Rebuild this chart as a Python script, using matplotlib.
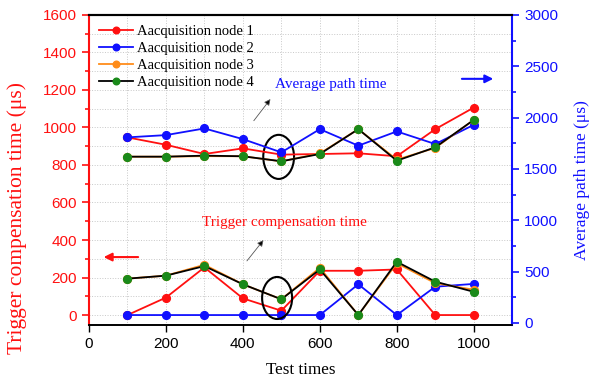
import numpy as np
import matplotlib
matplotlib.use('Agg')
import matplotlib.pyplot as plt
from matplotlib.patches import Ellipse
from matplotlib.ticker import MultipleLocator

# Data
test_times = [100, 200, 300, 400, 500, 600, 700, 800, 900, 1000]
labels = ['Aacquisition node 1', 'Aacquisition node 2',
          'Aacquisition node 3', 'Aacquisition node 4']

# Trigger compensation time (left axis)
trig_node1 = [0, 93, 254, 89, 23, 236, 236, 243, 0, 0]
trig_node2 = [0, 0, 0, 0, 0, 0, 164, 0, 151, 166]
trig_node3 = [194, 210, 268, 164, 84, 252, 0, 276, 170, 135]
trig_node4 = [194, 210, 261, 164, 84, 243, 0, 284, 178, 124]

# Average path time (right axis)
path_node1 = [1807, 1735, 1645, 1700, 1639, 1645, 1652, 1623, 1887, 2097]
path_node2 = [1807, 1829, 1894, 1790, 1661, 1887, 1726, 1865, 1742, 1929]
path_node3 = [1619, 1619, 1624, 1623, 1574, 1650, 1887, 1590, 1705, 1977]
path_node4 = [1619, 1619, 1629, 1623, 1574, 1645, 1887, 1580, 1710, 1977]

serif = 'Liberation Serif'
sans = 'Liberation Sans'

red = '#ff1010'
blue = '#1010ff'
orange = '#ff8c1a'
green = '#1a8a1a'

fig = plt.figure(figsize=(5.97, 3.81), dpi=100)
ax = fig.add_axes([0.149, 0.147, 0.709, 0.814])
ax2 = ax.twinx()

styles = [
    (red, red, trig_node1, path_node1),
    (blue, blue, trig_node2, path_node2),
    (orange, orange, trig_node3, path_node3),
    ('black', green, trig_node4, path_node4),
]

for (lc, mc, trig, path), lab in zip(styles, labels):
    ax.plot(test_times, trig, color=lc, lw=1.3, marker='o', ms=5.6,
            mfc=mc, mec=mc, label=lab)
    ax2.plot(test_times, path, color=lc, lw=1.3, marker='o', ms=5.6,
             mfc=mc, mec=mc)

# Axis limits
ax.set_xlim(0, 1100)
ax.set_ylim(-53, 1600)
ax2.set_ylim(-20, 3000)

# Ticks
ax.xaxis.set_major_locator(MultipleLocator(200))
ax.yaxis.set_major_locator(MultipleLocator(200))
ax.yaxis.set_minor_locator(MultipleLocator(100))
ax2.yaxis.set_major_locator(MultipleLocator(500))
ax2.yaxis.set_minor_locator(MultipleLocator(250))
ax.set_xticks(list(np.arange(100, 1001, 200)) + [1100], minor=True)

ax.tick_params(axis='x', which='major', direction='out', length=5, width=1,
               colors='black', labelsize=11, top=False)
ax.tick_params(axis='x', which='minor', length=0)
ax.tick_params(axis='y', which='major', direction='out', length=5, width=1.2,
               colors=red, labelsize=11)
ax.tick_params(axis='y', which='minor', direction='out', length=3, width=1.2,
               colors=red)
ax2.tick_params(axis='y', which='major', direction='out', length=5, width=1.2,
                colors=blue, labelsize=11)
ax2.tick_params(axis='y', which='minor', direction='out', length=3, width=1.2,
                colors=blue)
for lbl in ax.get_xticklabels() + ax.get_yticklabels() + ax2.get_yticklabels():
    lbl.set_fontfamily(sans)

# Spines
ax.spines['left'].set_color(red)
ax.spines['left'].set_linewidth(1.5)
ax2.spines['left'].set_visible(False)
ax2.spines['right'].set_color(blue)
ax2.spines['right'].set_linewidth(1.5)
ax.spines['right'].set_visible(False)
for a in (ax, ax2):
    a.spines['top'].set_linewidth(1.5)
    a.spines['bottom'].set_linewidth(1.2)

# Grid
ax.grid(True, which='both', ls=':', color='#c8c8c8', lw=0.7)
ax.set_axisbelow(True)

# Labels
ax.set_xlabel('Test times', fontfamily=serif, fontsize=12.3, labelpad=8)
fig.text(17 / 597, 1 - 218 / 381, 'Trigger compensation time (μs)',
         fontfamily=serif, fontsize=15.5, color=red, rotation=90,
         ha='center', va='center')
fig.text(582 / 597, 1 - 180 / 381, 'Average path time (μs)',
         fontfamily=serif, fontsize=12.6, color=blue, rotation=90,
         ha='center', va='center')

# Legend
leg = ax.legend(loc='upper left', frameon=False, prop={'family': serif, 'size': 10.5},
                handlelength=2.3, handletextpad=0.3, labelspacing=0.25,
                borderaxespad=0.3, bbox_to_anchor=(0.0, 1.0), markerscale=0.85)

# Annotations
ax.text(484, 1227, 'Average path time', color=blue, fontfamily=serif,
        fontsize=11, va='center', ha='left')
ax.annotate('', xy=(476, 1163), xytext=(424, 1024),
            arrowprops=dict(arrowstyle='-|>', color='#555555', lw=0.6,
                            mutation_scale=9, fc='black'))
ax.text(507, 491, 'Trigger compensation time', color=red, fontfamily=serif,
        fontsize=11, va='center', ha='center')
ax.annotate('', xy=(458, 411), xytext=(406, 277),
            arrowprops=dict(arrowstyle='-|>', color='#555555', lw=0.6,
                            mutation_scale=9, fc='black'))
ax.annotate('', xy=(31, 309), xytext=(135, 309),
            arrowprops=dict(arrowstyle='-|>', color=red, lw=1.5,
                            mutation_scale=12))
ax.annotate('', xy=(1058, 1259), xytext=(962, 1259),
            arrowprops=dict(arrowstyle='-|>', color=blue, lw=1.5,
                            mutation_scale=12))

ax.add_patch(Ellipse((493, 843), 80, 235, fill=False, ec='black', lw=1.5, zorder=5))
ax.add_patch(Ellipse((489, 91), 78, 224, fill=False, ec='black', lw=1.5, zorder=5))

fig.savefig('out.png', dpi=100)
